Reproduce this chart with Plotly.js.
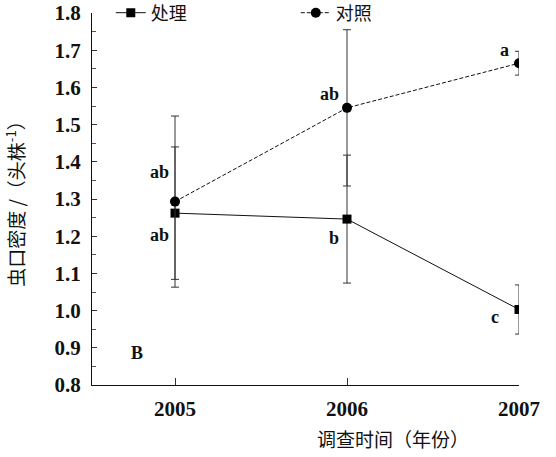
<!DOCTYPE html>
<html><head><meta charset="utf-8">
<script src="https://cdn.plot.ly/plotly-3.0.1.min.js"></script>
<style>body{margin:0;background:#fff}#chart{width:556px;height:457px}</style>
</head><body><div id="chart"></div>
<script>
const years = [2005, 2006, 2007];
const treatName = "处理";
const controlName = "对照";
const treatVals = [1.262, 1.246, 1.003];
const treatErr = [0.178, 0.172, 0.066];
const controlVals = [1.293, 1.545, 1.665];
const controlErr = [0.23, 0.21, 0.032];
const sigLabels = ["ab", "ab", "b", "ab", "a", "c", "B"];
const sigX = [2004.907, 2004.907, 2005.924, 2005.90, 2006.913, 2006.86, 2004.78];
const sigY = [1.373, 1.203, 1.195, 1.582, 1.70, 0.983, 0.886];
const yTicks = [0.8, 0.9, 1.0, 1.1, 1.2, 1.3, 1.4, 1.5, 1.6, 1.7, 1.8];

const serif = "Liberation Serif, Times New Roman, serif";
const cjk = "Noto Sans CJK SC, sans-serif";

const traces = [
  {x: years, y: treatVals, name: treatName, type: 'scatter', mode: 'lines+markers',
   line: {color: '#111', width: 1}, marker: {symbol: 'square', size: 9, color: '#000'},
   error_y: {type: 'data', array: treatErr, visible: true, color: '#333', thickness: 1, width: 4}},
  {x: years, y: controlVals, name: controlName, type: 'scatter', mode: 'lines+markers',
   line: {color: '#111', width: 1, dash: '4px,2px'}, marker: {symbol: 'circle', size: 10, color: '#000'},
   error_y: {type: 'data', array: controlErr, visible: true, color: '#333', thickness: 1, width: 4}}
];

const L = 92, R = 37, T = 13, B = 72, W = 556, H = 457;
const pw = W - L - R, ph = H - T - B;

const annotations = sigLabels.map((t, i) => ({
  x: sigX[i], y: sigY[i], xref: 'x', yref: 'y', text: t, showarrow: false,
  font: {family: serif, size: 18, color: '#111', weight: 'bold'}
}));
annotations.push({x: (393 - L) / pw, y: (H - B - 438) / ph, xref: 'paper', yref: 'paper',
  xanchor: 'center', yanchor: 'middle', text: '调查时间（年份）',
  showarrow: false, font: {family: cjk, size: 19, color: '#111'}});

const layout = {
  width: W, height: H,
  margin: {l: L, r: R, t: T, b: B, autoexpand: false},
  paper_bgcolor: '#fff', plot_bgcolor: '#fff',
  showlegend: true,
  legend: {orientation: 'h', x: 0.044, y: 1.0, xanchor: 'left', yanchor: 'middle',
    bgcolor: 'rgba(0,0,0,0)', entrywidth: 140, entrywidthmode: 'pixels',
    font: {family: cjk, size: 18, color: '#111'}},
  xaxis: {range: [2004.5174, 2007], tickvals: years, ticktext: years.map(String),
    showgrid: false, zeroline: false, showline: true, linecolor: '#111', linewidth: 1,
    ticks: 'inside', ticklen: 7, tickcolor: '#333', ticklabelstandoff: 5,
    tickfont: {family: serif, size: 21, color: '#111', weight: 'bold'}},
  yaxis: {range: [0.8, 1.8], tickvals: yTicks, ticktext: yTicks.map(v => v.toFixed(1)),
    showgrid: false, zeroline: false, showline: true, linecolor: '#111', linewidth: 1,
    ticks: 'inside', ticklen: 5, tickcolor: '#333', ticklabelstandoff: 6,
    minor: {dtick: 0.05, ticks: 'inside', ticklen: 4, tickcolor: '#555'},
    tickfont: {family: serif, size: 21, color: '#111', weight: 'bold'},
    title: {text: '虫口密度 /（头株<sup>-1</sup>）', standoff: 24, font: {family: cjk, size: 19, color: '#111'}}},
  annotations: annotations
};
Plotly.newPlot('chart', traces, layout, {displayModeBar: false, staticPlot: true});
</script></body></html>
